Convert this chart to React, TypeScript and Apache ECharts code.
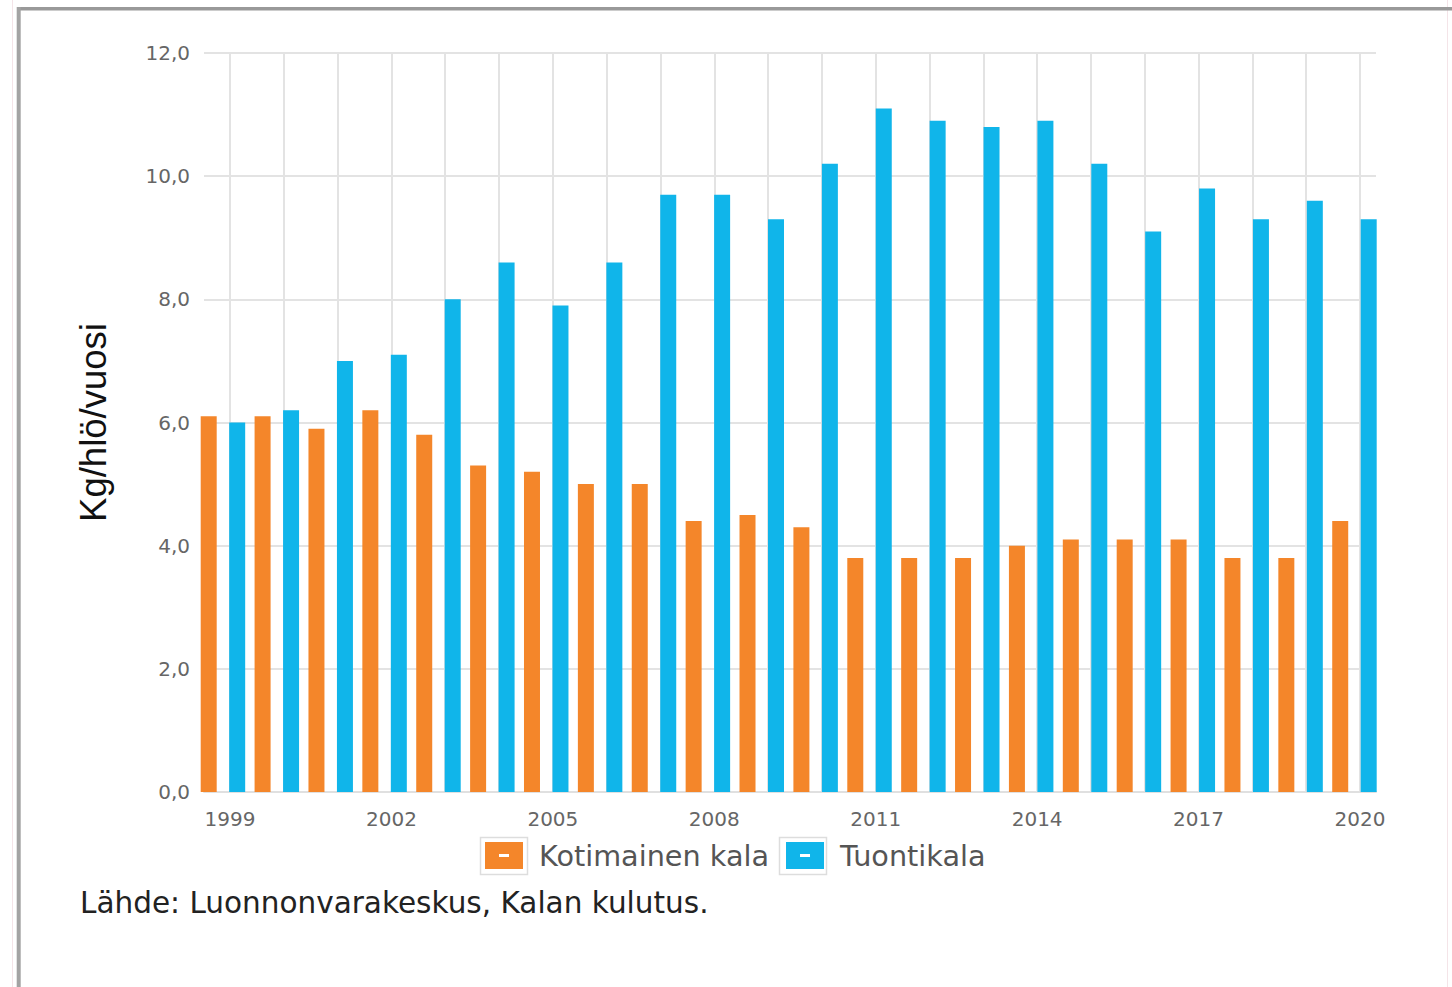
import React, { useEffect, useRef } from "react";
import * as echarts from "echarts";

const years = [
  "1999", "2000", "2001", "2002", "2003", "2004", "2005", "2006", "2007", "2008", "2009",
  "2010", "2011", "2012", "2013", "2014", "2015", "2016", "2017", "2018", "2019", "2020",
];
const kotimainen = [6.1, 6.1, 5.9, 6.2, 5.8, 5.3, 5.2, 5.0, 5.0, 4.4, 4.5, 4.3, 3.8, 3.8, 3.8, 4.0, 4.1, 4.1, 4.1, 3.8, 3.8, 4.4];
const tuonti = [6.0, 6.2, 7.0, 7.1, 8.0, 8.6, 7.9, 8.6, 9.7, 9.7, 9.3, 10.2, 11.1, 10.9, 10.8, 10.9, 10.2, 9.1, 9.8, 9.3, 9.6, 9.3];
const seriesNames = ["Kotimainen kala", "Tuontikala"];
const yAxisTitle = "Kg/hlö/vuosi";
const sourceText = "Lähde: Luonnonvarakeskus, Kalan kulutus.";

const ORANGE = "#F4862A";
const BLUE = "#10B5EA";
const GRIDLINE = "#e3e3e3";
const LABEL = "#666666";
const FONT = "'DejaVu Sans', Verdana, sans-serif";

const TOP = 53;
const BOTTOM = 195;

export default function App() {
  const ref = useRef<HTMLDivElement>(null);

  useEffect(() => {
    if (!ref.current) return;
    const chart = echarts.init(ref.current, undefined, { renderer: "svg" });
    const iconPath = "path://M0,0L38,0L38,27L0,27Z M14,12L14,15L24,15L24,12Z";

    chart.setOption({
      animation: false,
      backgroundColor: "#ffffff",
      grid: [
        { left: 204, right: 76, top: TOP, bottom: BOTTOM },
        { left: 230, right: 92, top: TOP, bottom: BOTTOM },
        { left: 196, right: 70.6, top: TOP, bottom: BOTTOM },
      ],
      xAxis: [
        {
          gridIndex: 0,
          type: "category",
          data: years,
          axisLine: { show: true, lineStyle: { color: "#e0e0e0", width: 2 } },
          axisTick: { show: false },
          axisLabel: { show: false },
          splitLine: { show: false },
        },
        {
          gridIndex: 1,
          type: "category",
          data: years,
          boundaryGap: false,
          axisLine: { show: false },
          axisTick: { show: false },
          axisLabel: {
            interval: 2,
            margin: 17,
            color: LABEL,
            fontSize: 20,
            fontFamily: FONT,
          },
          splitLine: { show: true, interval: 0, lineStyle: { color: GRIDLINE, width: 2 } },
        },
        {
          gridIndex: 2,
          type: "category",
          data: years,
          show: false,
        },
      ],
      yAxis: [
        {
          gridIndex: 0,
          type: "value",
          min: 0,
          max: 12,
          interval: 2,
          name: yAxisTitle,
          nameLocation: "middle",
          nameRotate: 90,
          nameGap: 92,
          nameTextStyle: {
            fontFamily: "'Liberation Sans', Arial, sans-serif",
            fontSize: 36.5,
            color: "#111111",
          },
          axisLine: { show: false },
          axisTick: { show: false },
          axisLabel: {
            margin: 14,
            color: LABEL,
            fontSize: 20,
            fontFamily: FONT,
            formatter: (v: number) => v.toFixed(1).replace(".", ","),
          },
          splitLine: { show: true, lineStyle: { color: GRIDLINE, width: 2 } },
        },
        { gridIndex: 1, type: "value", min: 0, max: 12, show: false },
        { gridIndex: 2, type: "value", min: 0, max: 12, show: false },
      ],
      legend: {
        left: 485,
        top: 841,
        padding: 0,
        itemWidth: 38,
        itemHeight: 27,
        itemGap: 17,
        selectedMode: false,
        icon: iconPath,
        textStyle: {
          fontFamily: FONT,
          fontSize: 28.7,
          color: "#555555",
          padding: [0, 0, 0, 11],
        },
        data: seriesNames,
      },
      series: [
        {
          name: seriesNames[0],
          type: "bar",
          xAxisIndex: 2,
          yAxisIndex: 2,
          data: kotimainen,
          barWidth: 16,
          barGap: "78%",
          itemStyle: { color: ORANGE },
        },
        {
          name: seriesNames[1],
          type: "bar",
          xAxisIndex: 2,
          yAxisIndex: 2,
          data: tuonti,
          barWidth: 16,
          barGap: "78%",
          itemStyle: { color: BLUE },
        },
      ],
      graphic: [
        { type: "line", shape: { x1: 12.5, y1: 0, x2: 12.5, y2: 987 }, style: { stroke: "#f4e4e8", lineWidth: 1 }, silent: true },
        { type: "line", shape: { x1: 1447.5, y1: 0, x2: 1447.5, y2: 987 }, style: { stroke: "#f4e4e8", lineWidth: 1 }, silent: true },
        { type: "line", shape: { x1: 17, y1: 8.7, x2: 1452, y2: 8.7 }, style: { stroke: "#999999", lineWidth: 3.5 }, silent: true },
        { type: "line", shape: { x1: 18.7, y1: 7, x2: 18.7, y2: 987 }, style: { stroke: "#a3a3a3", lineWidth: 4 }, silent: true },
        { type: "rect", shape: { x: 480.5, y: 837.5, width: 47, height: 37 }, style: { fill: "none", stroke: "#dddddd", lineWidth: 1.5 }, silent: true },
        { type: "rect", shape: { x: 779.5, y: 837.5, width: 47, height: 37 }, style: { fill: "none", stroke: "#dddddd", lineWidth: 1.5 }, silent: true },
        {
          type: "text",
          x: 80,
          y: 903,
          style: {
            text: sourceText,
            fontFamily: FONT,
            fontSize: 29.5,
            fill: "#222222",
            textVerticalAlign: "middle",
            verticalAlign: "middle",
          },
          silent: true,
        },
      ],
    });

    return () => chart.dispose();
  }, []);

  return (
    <div
      ref={ref}
      style={{ position: "absolute", left: 0, top: 0, width: 1452, height: 987 }}
    />
  );
}
